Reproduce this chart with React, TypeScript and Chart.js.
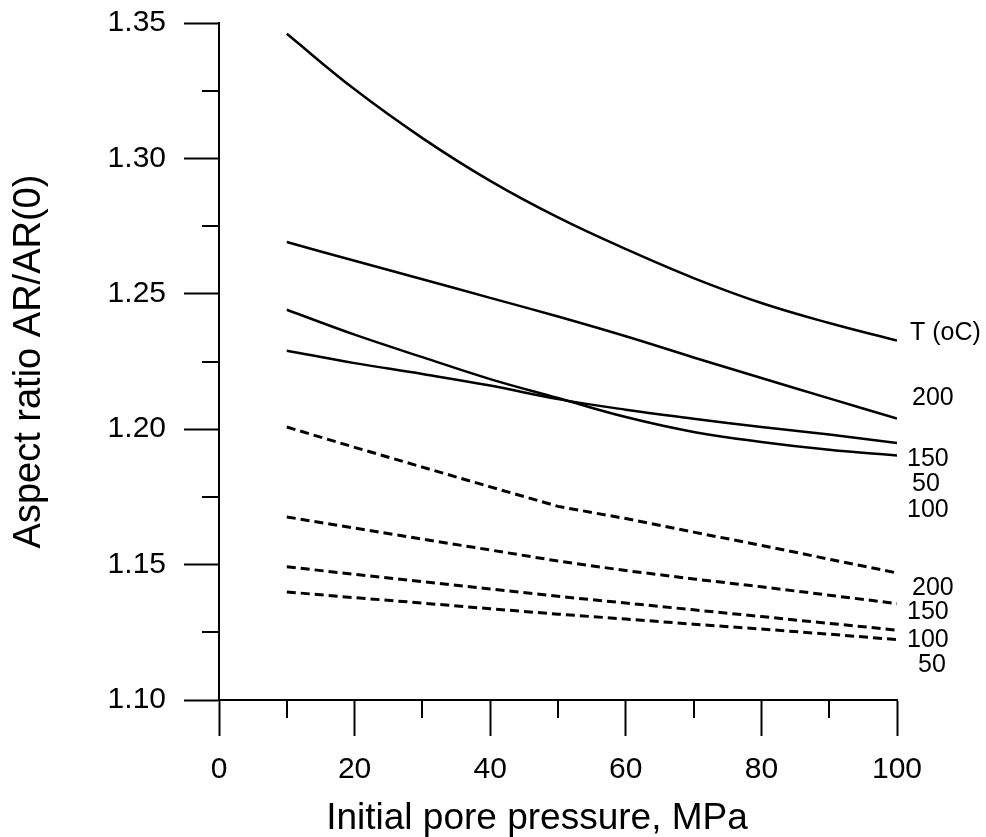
import React, { useEffect, useRef } from 'react';
import { Chart, registerables } from 'chart.js';

Chart.register(...registerables);

// ---- data ----
const pressures = [10, 20, 30, 40, 50, 60, 70, 80, 90, 100];

// solid curves
const solidTop = [1.346, 1.3255, 1.3075, 1.2917, 1.2782, 1.2665, 1.2558, 1.2466, 1.2392, 1.2327];
const solid200 = [1.2691, 1.2622, 1.2554, 1.2485, 1.2416, 1.2343, 1.2265, 1.2189, 1.2114, 1.2039];
const solid150 = [1.2441, 1.2349, 1.2266, 1.2185, 1.2115, 1.2045, 1.199, 1.1953, 1.1924, 1.1903];
const solidLow = [1.229, 1.2244, 1.2204, 1.2161, 1.2111, 1.2072, 1.2039, 1.2008, 1.198, 1.1949];

// dashed curves
const dashed200 = [1.2008, 1.1933, 1.186, 1.1787, 1.1715, 1.167, 1.162, 1.1571, 1.152, 1.1469];
const dashed150 = [1.1676, 1.1635, 1.1594, 1.1554, 1.1513, 1.1478, 1.1447, 1.1418, 1.1387, 1.1356];
const dashed100 = [1.1492, 1.1464, 1.1437, 1.141, 1.1383, 1.1358, 1.1333, 1.1308, 1.1283, 1.1258];
const dashed50 = [1.1399, 1.1378, 1.1358, 1.1337, 1.1317, 1.1299, 1.128, 1.1262, 1.1243, 1.1223];

// right-hand annotations (text and value position on the y axis)
const endLabels = ['T (oC)', '200', '150', '50', '100', '200', '150', '100', '50'];
const endLabelValues = [1.2356, 1.2116, 1.1888, 1.1796, 1.1703, 1.1415, 1.1323, 1.122, 1.1127];
const endLabelDx = [13, 15, 10, 15, 10, 15, 10, 10, 21];

const xMin = 0;
const xMax = 100;
const xStep = 10;
const yMin = 1.1;
const yMax = 1.35;
const yStep = 0.025;

const xTitle = 'Initial pore pressure, MPa';
const yTitle = 'Aspect ratio AR/AR(0)';

const FONT = '"Liberation Sans", Arial, Helvetica, sans-serif';

function toPoints(ys: number[]) {
  return pressures.map((x, i) => ({ x, y: ys[i] }));
}

const annotPlugin = {
  id: 'annot',
  afterDraw(chart: any) {
    const { ctx, chartArea } = chart;
    const xs = chart.scales.x;
    const ys = chart.scales.y;
    ctx.save();
    ctx.strokeStyle = '#000';
    ctx.lineWidth = 2;
    // minor ticks
    xs.ticks.forEach((t: any, i: number) => {
      if (i % 2 === 1) {
        const px = Math.round(xs.getPixelForValue(t.value));
        ctx.beginPath();
        ctx.moveTo(px, chartArea.bottom);
        ctx.lineTo(px, chartArea.bottom + 18);
        ctx.stroke();
      }
    });
    ys.ticks.forEach((t: any, i: number) => {
      if (i % 2 === 1) {
        const py = Math.round(ys.getPixelForValue(t.value));
        ctx.beginPath();
        ctx.moveTo(chartArea.left, py);
        ctx.lineTo(chartArea.left - 17, py);
        ctx.stroke();
      }
    });
    // end labels
    ctx.fillStyle = '#000';
    ctx.font = `25px ${FONT}`;
    ctx.textAlign = 'left';
    ctx.textBaseline = 'middle';
    const xr = xs.getPixelForValue(xMax);
    endLabels.forEach((s, i) => {
      ctx.fillText(s, xr + endLabelDx[i], ys.getPixelForValue(endLabelValues[i]));
    });
    // x axis title
    ctx.font = `37px ${FONT}`;
    ctx.textAlign = 'center';
    ctx.textBaseline = 'alphabetic';
    ctx.fillText(xTitle, (chartArea.left + chartArea.right) / 2 - 21, 829);
    ctx.restore();
  },
};

export default function App() {
  const canvasRef = useRef<HTMLCanvasElement | null>(null);

  useEffect(() => {
    document.body.style.margin = '0';
    const canvas = canvasRef.current;
    if (!canvas) return;
    const solid = (data: number[]) => ({
      data: toPoints(data),
      borderColor: '#000',
      borderWidth: 2.5,
      pointRadius: 0,
      fill: false,
      tension: 0.4,
    });
    const dashed = (data: number[]) => ({
      data: toPoints(data),
      borderColor: '#000',
      borderWidth: 3,
      borderDash: [9, 5],
      pointRadius: 0,
      fill: false,
      tension: 0,
    });
    const chart = new Chart(canvas, {
      type: 'line',
      data: {
        datasets: [
          solid(solidTop),
          solid(solid200),
          solid(solid150),
          solid(solidLow),
          dashed(dashed200),
          dashed(dashed150),
          dashed(dashed100),
          dashed(dashed50),
        ] as any,
      },
      options: {
        responsive: false,
        animation: false,
        devicePixelRatio: 1,
        layout: { padding: { top: 23, right: 89, bottom: 0, left: 0 } },
        plugins: {
          legend: { display: false },
          tooltip: { enabled: false },
        },
        scales: {
          x: {
            type: 'linear',
            min: xMin,
            max: xMax,
            offset: false,
            border: { display: true, color: '#000', width: 2 },
            grid: {
              drawOnChartArea: false,
              drawTicks: true,
              tickLength: 36,
              tickWidth: 2,
              tickColor: (c: any) => (c.index % 2 === 0 ? '#000' : 'rgba(0,0,0,0)'),
            },
            ticks: {
              stepSize: xStep,
              autoSkip: false,
              maxRotation: 0,
              padding: 16,
              color: '#000',
              font: { family: FONT, size: 30 },
              callback: (v: any, i: number) => (i % 2 === 0 ? String(v) : ''),
            },
            afterFit: (s: any) => {
              s.height = 137;
            },
          },
          y: {
            type: 'linear',
            min: yMin,
            max: yMax,
            border: { display: true, color: '#000', width: 2 },
            grid: {
              drawOnChartArea: false,
              drawTicks: true,
              tickLength: 35,
              tickWidth: 2,
              tickColor: (c: any) => (c.index % 2 === 0 ? '#000' : 'rgba(0,0,0,0)'),
            },
            ticks: {
              stepSize: yStep,
              autoSkip: false,
              padding: 18,
              color: '#000',
              font: { family: FONT, size: 30 },
              callback: (v: any, i: number) => (i % 2 === 0 ? Number(v).toFixed(2) : ''),
            },
            title: {
              display: true,
              text: yTitle,
              color: '#000',
              font: { family: FONT, size: 38 },
              padding: { top: 7, bottom: 0 },
            },
            afterFit: (s: any) => {
              s.width = 219;
              s.paddingTop = 0;
              s.paddingBottom = 0;
            },
          },
        },
      },
      plugins: [annotPlugin],
    });
    return () => chart.destroy();
  }, []);

  return (
    <div style={{ width: 986, height: 837, background: '#fff' }}>
      <canvas ref={canvasRef} width={986} height={837} style={{ display: 'block' }} />
    </div>
  );
}
